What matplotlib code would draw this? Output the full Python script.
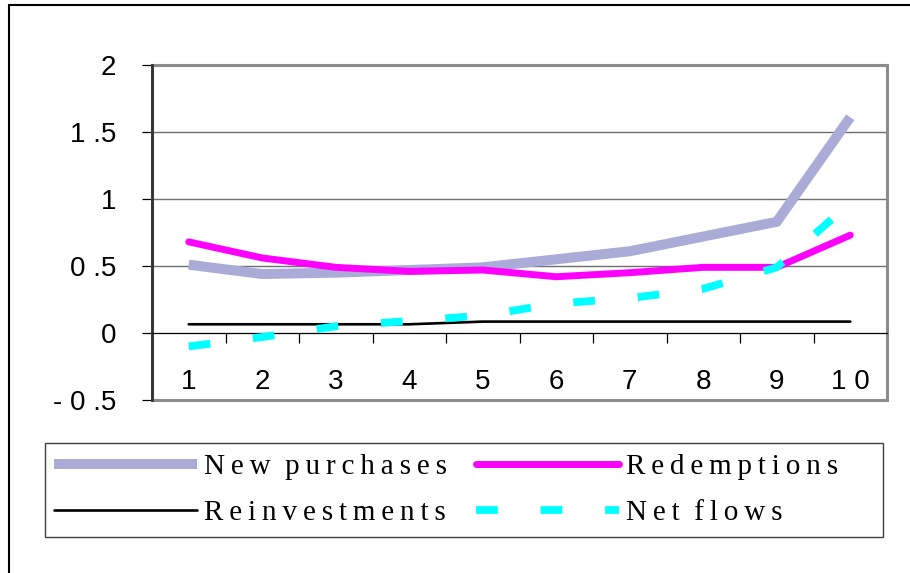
import numpy as np
import matplotlib
matplotlib.use('Agg')
import matplotlib.pyplot as plt
from matplotlib.patches import Rectangle

# deciles 1..10
deciles = [1, 2, 3, 4, 5, 6, 7, 8, 9, 10]
new_purchases = [0.51, 0.44, 0.45, 0.47, 0.49, 0.55, 0.61, 0.72, 0.83, 1.61]
redemptions = [0.68, 0.56, 0.49, 0.46, 0.47, 0.42, 0.45, 0.49, 0.49, 0.73]
reinvestments = [0.065, 0.065, 0.065, 0.065, 0.085, 0.085, 0.085, 0.085, 0.085, 0.085]
net_flows = [-0.10, -0.03, 0.05, 0.09, 0.13, 0.22, 0.26, 0.33, 0.49, 0.97]

x_labels = ['1', '2', '3', '4', '5', '6', '7', '8', '9', '1 0']
y_ticks = [-0.5, 0, 0.5, 1, 1.5, 2]
y_labels = ['- 0 .5', '0', '0 .5', '1', '1 .5', '2']

def spaced(s):
    # the original legend has very wide letter spacing (thin spaces between letters)
    return '\u2009'.join(s).replace('\u2009 \u2009', '  ')

fig = plt.figure(figsize=(9.1, 5.73), dpi=100)
ax = fig.add_axes([152/910, 1 - 400/573, (887 - 152)/910, (400 - 65)/573])

l_new, = ax.plot(deciles, new_purchases, color='#ABABD8', lw=7.2, solid_capstyle='butt',
                 solid_joinstyle='miter', label=spaced('New purchases'), zorder=3)
l_rei, = ax.plot(deciles, reinvestments, color='black', lw=1.9, solid_capstyle='round',
                 label=spaced('Reinvestments'), zorder=4)
l_red, = ax.plot(deciles, redemptions, color='#FF00FF', lw=5, solid_capstyle='round',
                 label=spaced('Redemptions'), zorder=5)
l_net, = ax.plot(deciles, net_flows, color='#00FFFF', lw=5.6, linestyle=(0, (2.8, 5.5)),
                 dash_capstyle='butt', label=spaced('Net flows'), zorder=6)

ax.set_xlim(0.5, 10.5)
ax.set_ylim(-0.5, 2)

# gridlines and axes
for v in [0.5, 1, 1.5]:
    ax.axhline(v, color='#6e6e6e', lw=1, zorder=1)

ax.spines['top'].set_visible(False)
ax.spines['right'].set_visible(False)
ax.spines['bottom'].set_position(('data', 0))
ax.spines['bottom'].set_color('black')
ax.spines['bottom'].set_linewidth(0.9)
ax.spines['left'].set_color('#333333')
ax.spines['left'].set_linewidth(2)
ax.add_patch(Rectangle((0, 0), 1, 1, transform=ax.transAxes, fill=False,
                       ec='#8c8c8c', lw=2.2, zorder=2, clip_on=False))

ax.set_xticks(deciles)
ax.set_xticklabels(x_labels, fontsize=20, family='Liberation Sans')
ax.set_xticks(np.arange(0.5, 11, 1), minor=True)
ax.tick_params(axis='x', which='major', length=0, pad=26)
ax.tick_params(axis='x', which='minor', length=7, width=0.9, direction='out', color='black')

ax.set_yticks(y_ticks)
ax.set_yticklabels(y_labels, fontsize=20, family='Liberation Sans')
ax.tick_params(axis='y', length=7, width=0.9, direction='out', pad=19, color='black')

leg = ax.legend(handles=[l_new, l_rei, l_red, l_net], ncol=2, loc='upper left',
                bbox_to_anchor=(45/910, 1 - 445/573), bbox_transform=fig.transFigure,
                borderaxespad=0, frameon=False,
                prop={'family': ['Liberation Serif', 'DejaVu Serif'], 'size': 21},
                handlelength=4.9, handletextpad=0.25, labelspacing=0.66,
                columnspacing=1.0, borderpad=0.3)

# legend box (wider than its contents in the original)
fig.patches.append(Rectangle((45/910, 1 - 537/573), (883 - 45)/910, (537 - 443)/573,
                             transform=fig.transFigure, fill=False, ec='#404040', lw=1))

# outer chart frame
fig.patches.append(Rectangle((9/910, -0.1), 1.1, 1.1 - 5/573, transform=fig.transFigure,
                             fill=False, ec='black', lw=1.5))

fig.savefig('out.png', dpi=100)
